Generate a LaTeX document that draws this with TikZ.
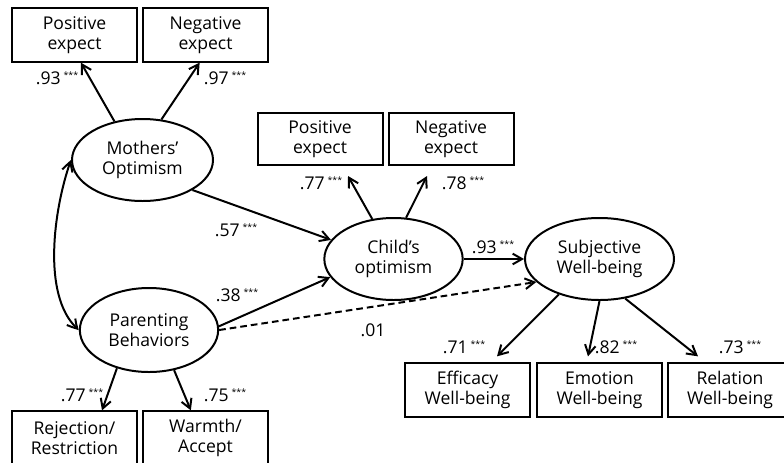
\documentclass[tikz,border=0pt]{standalone}
\usepackage{fontspec}
\setmainfont{Open Sans}
\usetikzlibrary{arrows.meta, bending, shapes.geometric}
\newcommand{\sig}{\,{\fontsize{7.5}{7.5}\selectfont\raisebox{5pt}{***}}}

\begin{document}
\begin{tikzpicture}[x=0.3mm, y=-0.3mm,
  obs/.style={draw, line width=1.7pt, minimum width=37.5mm, minimum height=16mm,
              align=center, inner sep=0pt, font=\fontsize{15}{17.5}\selectfont},
  lat/.style={draw, line width=1.7pt, ellipse, minimum width=41.5mm, minimum height=24.6mm,
              align=center, inner sep=0pt, font=\fontsize{15}{17.5}\selectfont},
  arr/.style={-{Straight Barb[length=2.8mm, width=3.2mm]}, line width=1.7pt},
  dbl/.style={{Straight Barb[length=2.8mm, width=3.2mm, bend]}-{Straight Barb[length=2.8mm, width=3.2mm, bend]}, line width=1.7pt},
  coef/.style={font=\fontsize{15}{17.5}\selectfont}]
  \useasboundingbox (0,0) rectangle (784,462);
  % latent variables
  \node[lat, minimum width=42.3mm] (mo) at (142.5,160) {Mothers’\\Optimism};
  \node[lat, minimum height=25.2mm] (pb) at (149,330) {Parenting\\Behaviors};
  \node[lat] (ch) at (393.5,259) {Child’s\\optimism};
  \node[lat, minimum width=44.7mm] (sw) at (599.5,259) {Subjective\\Well-being};
  % indicators
  \node[obs] (mpos) at (74.5,35) {Positive\\expect};
  \node[obs] (mneg) at (205.5,35) {Negative\\expect};
  \node[obs, minimum height=15.6mm] (cpos) at (320,139) {Positive\\expect};
  \node[obs, minimum height=15.6mm] (cneg) at (451,139) {Negative\\expect};
  \node[obs] (rej) at (74.5,438) {Rejection/\\Restriction};
  \node[obs] (warm) at (205.5,438) {Warmth/\\Accept};
  \node[obs] (eff) at (467.5,390) {Efficacy\\Well-being};
  \node[obs] (emo) at (599.5,390) {Emotion\\Well-being};
  \node[obs] (rel) at (730,390) {Relation\\Well-being};
  % measurement paths
  \draw[arr] (mo.126) -- ([xshift=5.5]mpos.south);
  \draw[arr] (mo.65) -- ([xshift=-5]mneg.south);
  \draw[arr] (ch.118) -- ([shift={(28,10)}]cpos.south);
  \draw[arr] (ch.73) -- ([shift={(-24,10)}]cneg.south);
  \draw[arr] (pb.230) -- ([xshift=23.5]rej.north);
  \draw[arr] (pb.302) -- ([xshift=-12.5]warm.north);
  \draw[arr] (sw.221) -- ([shift={(29.5,-6)}]eff.north);
  \draw[arr] (sw.270) -- ([shift={(-11.5,-6)}]emo.north);
  \draw[arr] (sw.303) -- ([shift={(-32,-6)}]rel.north);
  % structural paths
  \draw[arr] (mo.-31) -- (ch.163);
  \draw[arr] (pb.3) -- (ch.196);
  \draw[arr] (ch.east) -- (sw.west);
  \draw[arr, dash pattern=on 2mm off 1.2mm] (pb.0) -- (sw.200);
  \draw[dbl] (mo.west) to[out=250, in=140, looseness=0.75] (pb.west);
  % coefficients
  \node[coef] (l1) at (57,78) {.93\sig};
  \node[coef] (l2) at (225,78) {.97\sig};
  \node[coef] (l3) at (236,230) {.57\sig};
  \node[coef] (l4) at (237,295) {.38\sig};
  \node[coef] (l5) at (82,395) {.77\sig};
  \node[coef] (l6) at (225,395) {.75\sig};
  \node[coef] (l7) at (321,183) {.77\sig};
  \node[coef] (l8) at (463,183) {.78\sig};
  \node[coef] (l9) at (493,247) {.93\sig};
  \node[coef] (l10) at (373,330) {.01};
  \node[coef] (l11) at (464,347) {.71\sig};
  \node[coef] (l12) at (616,347) {.82\sig};
  \node[coef] (l13) at (740,347) {.73\sig};
\end{tikzpicture}
\end{document}
